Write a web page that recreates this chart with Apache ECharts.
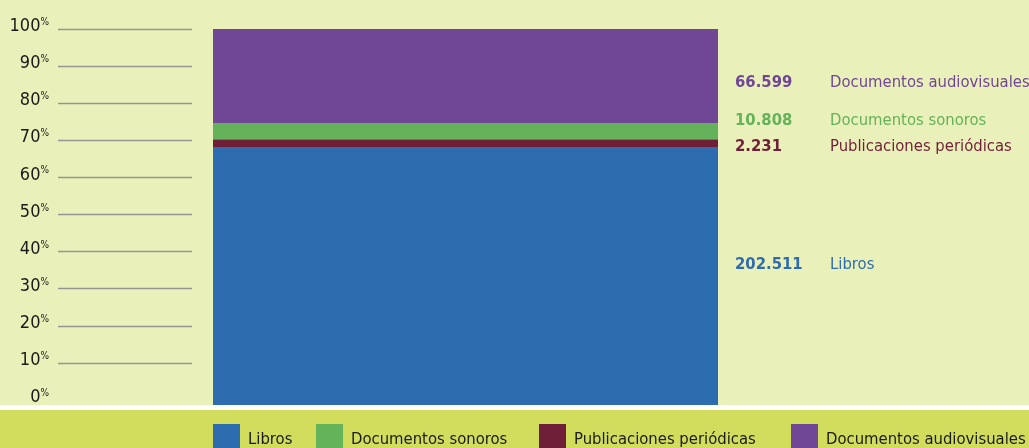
<!DOCTYPE html>
<html><head><meta charset="utf-8">
<script src="https://cdn.jsdelivr.net/npm/echarts@6/dist/echarts.min.js"></script>
<style>html,body{margin:0;padding:0;background:#eaf0b9;}#c{width:1029px;height:448px;}</style>
</head><body><div id="c"></div>
<script>
const categories = ['Fondo'];
const seriesNames = ['Libros', 'Publicaciones periódicas', 'Documentos sonoros', 'Documentos audiovisuales'];
const counts = ['202.511', '2.231', '10.808', '66.599'];
const shares = [68.6, 2.1, 4.3, 25.0];
const colors = ['#2d6daf', '#6f1f37', '#64b25a', '#704795'];
const legendOrder = ['Libros', 'Documentos sonoros', 'Publicaciones periódicas', 'Documentos audiovisuales'];
const yTicks = [0, 10, 20, 30, 40, 50, 60, 70, 80, 90, 100];

const FONT = '"DejaVu Sans Condensed", "DejaVu Sans", sans-serif';
const labelOffsets = [-11, 4, -10, 7];
const legendLeft = [213, 316, 539, 791];

const chart = echarts.init(document.getElementById('c'));
const series = seriesNames.map((name, i) => ({
  name, type: 'bar', stack: 'total', xAxisIndex: 1, yAxisIndex: 1,
  barWidth: '100%', itemStyle: { color: colors[i] },
  data: [shares[i]],
  label: {
    show: true, position: 'right', distance: 17, offset: [0, labelOffsets[i]],
    formatter: () => '{v|' + counts[i] + '}{n|' + name + '}',
    rich: {
      v: { fontFamily: FONT, fontSize: 16.5, fontWeight: 'bold', color: colors[i], width: 95 },
      n: { fontFamily: FONT, fontSize: 16.5, color: colors[i] }
    }
  }
}));

chart.setOption({
  animation: false,
  backgroundColor: '#eaf0b9',
  textStyle: { fontFamily: FONT },
  graphic: [
    { type: 'rect', left: 0, top: 405, shape: { width: 1029, height: 5 }, style: { fill: '#ffffff' }, z: -1 },
    { type: 'rect', left: 0, top: 410, shape: { width: 1029, height: 38 }, style: { fill: '#d2dc5d' }, z: -1 }
  ],
  legend: legendOrder.map((n, i) => ({
    data: [n], left: legendLeft[i], top: 424, padding: 0, itemWidth: 27, itemHeight: 25,
    icon: 'rect', selectedMode: false,
    formatter: name => '{t|' + name + '}',
    textStyle: {
      fontFamily: FONT, fontSize: 16.5, color: '#1a1a1a',
      rich: { t: { fontFamily: FONT, fontSize: 16.5, color: '#1a1a1a', padding: [6, 0, 0, 3] } }
    }
  })),
  grid: [
    { left: 58, width: 134, top: 29, bottom: 48 },
    { left: 213, right: 311, top: 29, bottom: 43 }
  ],
  xAxis: [
    { type: 'value', gridIndex: 0, show: false },
    { type: 'category', gridIndex: 1, data: categories, show: false }
  ],
  yAxis: [
    {
      type: 'value', gridIndex: 0, min: 0, max: 100, interval: 10,
      axisLine: { show: false }, axisTick: { show: false },
      splitLine: { show: true, showMinLine: false, lineStyle: { color: '#959595', width: 1.3 } },
      axisLabel: {
        margin: 9, padding: [0, 0, 5, 0],
        formatter: v => '{n|' + v + '}{p|%}',
        rich: {
          n: { fontFamily: FONT, fontSize: 18, color: '#1a1a1a' },
          p: { fontFamily: FONT, fontSize: 10, color: '#1a1a1a', verticalAlign: 'top', padding: [0, 0, 8, 0] }
        }
      }
    },
    { type: 'value', gridIndex: 1, min: 0, max: 100, show: false }
  ],
  series
});
</script></body></html>
